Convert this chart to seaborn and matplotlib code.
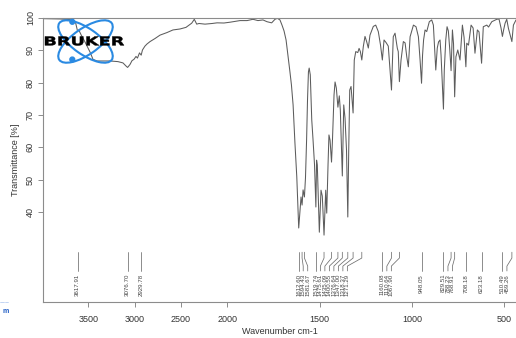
import numpy as np
import pandas as pd
import matplotlib
matplotlib.use("Agg")
import matplotlib.pyplot as plt
import seaborn as sns
from matplotlib.patches import Ellipse, Circle, PathPatch
from matplotlib.textpath import TextPath
from matplotlib.font_manager import FontProperties
from matplotlib.transforms import Affine2D

# IR spectrum: wavenumber (cm-1) and transmittance (%)
wavenumber = [
    3990, 3808, 3700, 3668, 3640, 3625, 3617.91, 3605, 3580, 3538, 3484, 3451, 3408,
    3267, 3181, 3127, 3089, 3076.70, 3051, 3029, 3008, 2986, 2970, 2948, 2929.78,
    2916, 2889, 2867, 2834, 2780, 2726, 2650, 2586, 2510, 2445, 2383, 2355, 2329,
    2304, 2239, 2163, 2109, 2034, 1984, 1930, 1892, 1860, 1833, 1806, 1784, 1759,
    1741, 1728, 1714, 1703, 1692, 1681, 1669, 1660, 1652, 1643, 1633, 1623,
    1612.60, 1605.5, 1600, 1594.43, 1589, 1581.67, 1576, 1570, 1565, 1560, 1556,
    1550, 1542, 1535, 1527, 1519.74, 1516, 1512, 1501, 1492, 1485, 1475.61, 1466.5,
    1461, 1454, 1449, 1443, 1435.09, 1430, 1421.5, 1416, 1409, 1400.55, 1393,
    1387.5, 1376.64, 1369, 1362, 1354, 1347.00, 1342, 1336.6, 1329.5, 1324,
    1318.37, 1312, 1304, 1293, 1286, 1279, 1271.29, 1263, 1254, 1245, 1236, 1227,
    1209, 1196, 1182, 1170, 1160.08, 1151, 1140, 1128, 1110.64, 1101, 1091.5, 1079,
    1074, 1067.90, 1059, 1046.5, 1037, 1028, 1019.5, 1010, 992, 978, 965, 956,
    948.05, 942.6, 937, 929, 920, 906, 893, 884, 877, 871, 863, 856, 848, 842.5,
    829.51, 825, 817, 810, 803, 795, 788.23, 781, 775, 768.91, 762, 752, 740, 727,
    718, 708.18, 703.5, 694, 680, 669, 659, 646, 637, 623.18, 614, 595, 585.5, 568,
    541, 529, 518, 510.49, 504, 496, 487, 478, 459.26, 451, 437,
]
transmittance = [
    99.8, 99.7, 99.5, 99.1, 98.6, 96.8, 95.9, 96.3, 94.8, 92.6, 89.5, 87.2, 86.7,
    86.7, 86.5, 86.1, 85.0, 84.7, 85.6, 86.8, 87.2, 88.1, 87.6, 89.2, 88.5,
    90.1, 91.3, 91.95, 92.7, 93.65, 94.7, 95.5, 96.3, 96.6, 97.1, 98.4, 99.6, 98.1,
    98.3, 98.1, 98.3, 98.5, 98.45, 98.7, 99.2, 99.2, 99.6, 99.2, 99.4, 98.85, 98.5,
    99.6, 99.9, 99.4, 97.8, 96.0, 93.2, 87.6, 83.3, 79.3, 73.1, 61.3, 50.8,
    35.0, 40.6, 44.6, 42.1, 46.8, 44.6, 50.5, 62.2, 74.6, 83.3, 84.5,
    82.4, 68.4, 62.2, 54.5, 41.5, 56.0, 54.5, 33.7, 46.7, 44.9, 32.8, 46.7,
    39.6, 54.5, 63.8, 62.2, 55.4, 62.2, 76.2, 80.2, 78.3, 72.4, 75.9,
    71.5, 51.1, 73.1, 69.0, 59.1, 38.4, 59.1, 77.7, 78.8, 74.6,
    70.6, 87.0, 89.6, 89.3, 90.6, 89.6, 87.0, 91.2, 94.3, 92.7, 90.7, 94.7,
    97.4, 97.8, 95.8, 91.6, 87.0, 93.2, 92.4, 91.3, 77.7, 94.2, 95.3, 90.6,
    89.6, 80.3, 87.0, 92.7, 92.3, 88.0, 84.9, 94.2, 97.8, 97.3, 94.2, 87.0,
    79.8, 88.5, 93.2, 96.3, 95.8, 98.85, 99.4, 97.8, 90.1, 83.9, 90.7, 92.6, 93.2, 88.5,
    71.8, 83.9, 93.2, 97.3, 96.0, 90.0, 83.7, 96.3, 92.0, 75.6, 88.0, 90.1, 87.0, 97.8,
    94.0, 84.9, 92.2, 91.6, 97.8, 96.9, 89.1, 96.3, 95.7, 86.0, 97.3, 97.8, 97.2, 98.85,
    99.6, 99.7, 96.9, 94.3, 96.3, 98.4, 99.6, 96.8, 92.7, 97.8, 99.4,
]

# picked peak positions (cm-1)
peaks = [3617.91, 3076.70, 2929.78, 1612.60, 1594.43, 1581.67, 1519.74, 1475.61,
         1435.09, 1400.55, 1376.64, 1347.00, 1318.37, 1271.29, 1160.08, 1110.64,
         1067.90, 948.05, 829.51, 788.23, 768.91, 708.18, 623.18, 510.49, 459.26]

x_ticks = [3500, 3000, 2500, 2000, 1500, 1000, 500]
y_ticks = [40, 50, 60, 70, 80, 90, 100]

sns.set_theme(style="white")
plt.rcParams["font.family"] = ["Liberation Sans", "DejaVu Sans"]

W, H = 516, 338
AXIS_GREY = "#8c8c8c"
TEXT_GREY = "#333333"

fig = plt.figure(figsize=(W / 100, H / 100), dpi=100)
left_px, top_px, bottom_px = 43.2, 18.0, 302.3
ax = fig.add_axes([left_px / W, (H - bottom_px) / H, (W - left_px) / W,
                   (bottom_px - top_px) / H])


# wavenumber axis is compressed by a factor of two above 2000 cm-1
def fwd(w):
    w = np.asarray(w, dtype=float)
    return np.where(w > 2000, 2000 + (w - 2000) / 2.0, w)


def inv(f):
    f = np.asarray(f, dtype=float)
    return np.where(f > 2000, 2000 + 2.0 * (f - 2000), f)


ax.set_xscale("function", functions=(fwd, inv))
ax.set_xlim(3990, 437)
ax.set_ylim(12, 100)

df = pd.DataFrame({"Wavenumber": wavenumber, "Transmittance": transmittance})
sns.lineplot(data=df, x="Wavenumber", y="Transmittance", sort=False,
             estimator=None, color="#5c5c5c", lw=0.75, ax=ax)

ax.set_xticks(x_ticks)
ax.set_xticklabels([str(t) for t in x_ticks])
ax.set_yticks(y_ticks)
ax.set_yticklabels([str(t) for t in y_ticks], rotation=90, va="center")
ax.tick_params(axis="both", which="both", direction="out", length=3.5,
               width=0.7, color=AXIS_GREY, labelsize=6.5, labelcolor=TEXT_GREY,
               bottom=True, left=True)
ax.tick_params(axis="x", pad=5.5)
ax.tick_params(axis="y", pad=2.5)
ax.minorticks_off()

for side in ("left", "bottom", "top"):
    ax.spines[side].set_visible(True)
    ax.spines[side].set_color(AXIS_GREY)
    ax.spines[side].set_linewidth(0.8)
ax.spines["right"].set_visible(False)

ax.set_xlabel("Wavenumber cm-1", fontsize=6.5, color=TEXT_GREY, labelpad=2)
ax.set_ylabel("Transmittance [%]", fontsize=6.5, color=TEXT_GREY, labelpad=4)

# peak annotations: crowded labels are spread out and joined by bent leaders
order = np.argsort(-np.asarray(peaks))
peak_arr = np.asarray(peaks)[order]
disp_x = ax.transData.transform(np.column_stack([peak_arr, np.full(len(peak_arr), 50.0)]))[:, 0]
disp_y = ax.transData.transform([[1000, 50.0]])[0, 1]
label_disp = disp_x.copy()
spacing = 4.5 * fig.dpi / 100
start = 0
for i in range(1, len(disp_x) + 1):
    if i == len(disp_x) or disp_x[i] - disp_x[i - 1] >= 10:
        for k in range(start, i):
            label_disp[k] = disp_x[start] + (k - start) * spacing
        start = i
label_x = ax.transData.inverted().transform(
    np.column_stack([label_disp, np.full(len(label_disp), disp_y)]))[:, 0]

y_top, y_b1, y_b2, y_bot, y_txt = 27.5, 25.7, 23.2, 21.7, 20.8
for w, lx in zip(peak_arr, label_x):
    ax.plot([w, w, lx, lx], [y_top, y_b1, y_b2, y_bot], color="#6e6e6e", lw=0.55)
    ax.text(lx, y_txt, f"{w:.2f}", rotation=90, ha="center", va="top",
            fontsize=4.4, color="#444444")

# company logo and footer in pixel coordinates
ov = fig.add_axes([0, 0, 1, 1], zorder=10)
ov.set_xlim(0, W)
ov.set_ylim(H, 0)
ov.axis("off")
ov.patch.set_alpha(0)

BLUE = "#2a8ae2"
cx, cy = 85.5, 41.5
for ang in (35, -35):
    ov.add_patch(Ellipse((cx, cy), width=64, height=26, angle=ang, fill=False,
                         ec=BLUE, lw=1.5))
ov.add_patch(Circle((72.3, 21.8), 2.4, color=BLUE))
ov.add_patch(Circle((72.3, 59.5), 2.4, color=BLUE))

tp = TextPath((0, 0), "BRUKER", size=10,
              prop=FontProperties(family="DejaVu Sans", weight="bold"))
ext = tp.get_extents()
x0, x1, y0, y1 = 45.0, 124.0, 36.5, 45.5
sx = (x1 - x0) / ext.width
sy = (y1 - y0) / ext.height
tr = Affine2D().translate(-ext.x0, -ext.y0).scale(sx, -sy).translate(x0, y1)
ov.add_patch(PathPatch(tr.transform_path(tp), fc="black", ec="black", lw=0.3))

# footer fragment at the lower-left edge
ov.text(5.5, 311.5, "m", ha="center", va="center", fontsize=5,
        color="#1f5cc4", fontweight="bold")
ov.plot([0, 3.5], [301.5, 301.5], color="#a9c4ee", lw=0.5)
ov.plot([5, 8], [301.5, 301.5], color="#a9c4ee", lw=0.5)

fig.savefig("out.png", dpi=100)
